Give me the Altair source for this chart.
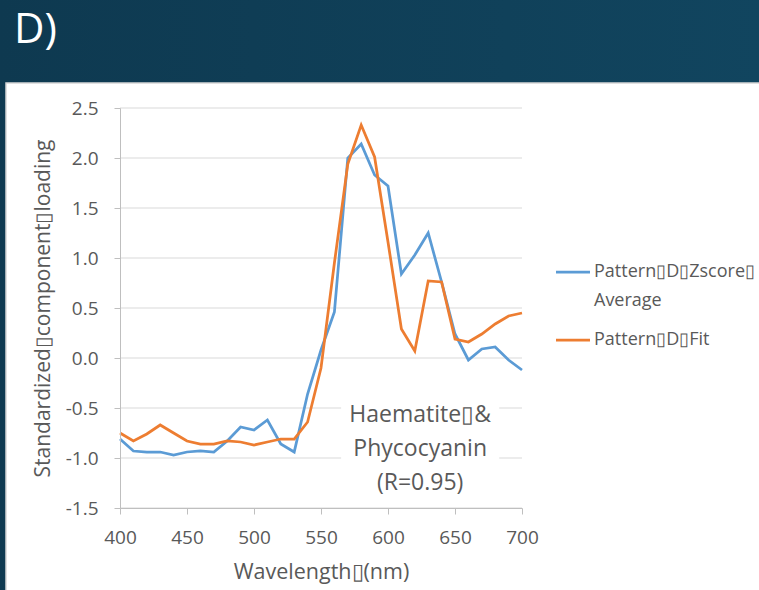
import altair as alt
import pandas as pd

# Spectral loadings, 400-700 nm in 10 nm steps
wavelengths = list(range(400, 701, 10))
zscore_average = [-0.81, -0.93, -0.94, -0.94, -0.97, -0.94, -0.93, -0.94, -0.83, -0.69,
                  -0.72, -0.62, -0.86, -0.94, -0.36, 0.08, 0.46, 2.00, 2.14, 1.83,
                  1.72, 0.84, 1.03, 1.25, 0.76, 0.24, -0.02, 0.09, 0.11, -0.02, -0.12]
pattern_fit = [-0.75, -0.83, -0.76, -0.67, -0.75, -0.83, -0.86, -0.86, -0.83, -0.84,
               -0.87, -0.84, -0.81, -0.81, -0.64, -0.10, 0.95, 1.94, 2.33, 2.01,
               1.16, 0.29, 0.07, 0.77, 0.76, 0.19, 0.16, 0.24, 0.34, 0.42, 0.45]

series_names = ["Pattern▯D▯Zscore▯ Average", "Pattern▯D▯Fit"]
legend_labels = ["Pattern▯D▯Zscore▯\nAverage", "Pattern▯D▯Fit"]
series_colors = ["#5b9bd5", "#ed7d31"]

x_ticks = [400, 450, 500, 550, 600, 650, 700]
y_ticks = [-1.5, -1.0, -0.5, 0.0, 0.5, 1.0, 1.5, 2.0, 2.5]

panel_label = "D)"
annotation_text = "Haematite▯&\nPhycocyanin\n(R=0.95)"
annotation_pos = [624, -0.565]
annotation_box_x = [565, 683]
annotation_box_y = [-0.42, -1.42]

FONT = "Open Sans"
TEXT_GRAY = "#595959"
W, H = 402, 400

df = pd.DataFrame({
    "wavelength": wavelengths * 2,
    "value": zscore_average + pattern_fit,
    "series": [series_names[0]] * len(wavelengths) + [series_names[1]] * len(wavelengths),
})

x_scale = alt.Scale(domain=[400, 700], nice=False, zero=False)
y_scale = alt.Scale(domain=[-1.5, 2.5], nice=False, zero=False)

x_axis = alt.Axis(values=x_ticks, grid=False, zindex=1, title="Wavelength▯(nm)",
                  tickSize=6, tickColor="#bfbfbf", domainColor="#bfbfbf", labelFlush=False,
                  labelFont=FONT, labelFontSize=19, labelColor=TEXT_GRAY, labelPadding=14,
                  titleFont=FONT, titleFontSize=21.5, titleColor=TEXT_GRAY,
                  titleFontWeight="normal", titlePadding=14)
y_axis = alt.Axis(values=y_ticks, grid=False, zindex=1,
                  labelExpr="replace(format(datum.value, '.1f'), '\u2212', '-')",
                  title="Standardized▯component▯loading",
                  tickSize=6, tickColor="#bfbfbf", domainColor="#bfbfbf",
                  labelFont=FONT, labelFontSize=19, labelColor=TEXT_GRAY, labelPadding=16,
                  titleFont=FONT, titleFontSize=21, titleColor=TEXT_GRAY,
                  titleFontWeight="normal", titlePadding=12)

one = pd.DataFrame({"k": [0]})

# Slide background with a soft horizontal gradient
background = alt.Chart(one).mark_rect(
    color=alt.Gradient(
        gradient="linear", x1=0, x2=1, y1=0, y2=0,
        stops=[alt.GradientStop(color="#0e3950", offset=0),
               alt.GradientStop(color="#11455f", offset=1)],
    )
).encode(x=alt.value(-120), x2=alt.value(639), y=alt.value(-108), y2=alt.value(482))

# White chart panel
panel = alt.Chart(one).mark_rect(fill="white", stroke="#d6d6d6", strokeWidth=1.5).encode(
    x=alt.value(-114), x2=alt.value(640), y=alt.value(-25), y2=alt.value(484)
)

label = alt.Chart(one).mark_text(
    text=panel_label, font=FONT, fontSize=42, color="white", align="left", baseline="alphabetic"
).encode(x=alt.value(-106), y=alt.value(-65))

grid = alt.Chart(pd.DataFrame({"v": y_ticks})).mark_rule(color="#d9d9d9", strokeWidth=1).encode(
    y=alt.Y("v:Q", scale=y_scale, axis=y_axis), x=alt.value(0), x2=alt.value(W)
)

ann_box = alt.Chart(pd.DataFrame({
    "x1": [annotation_box_x[0]], "x2": [annotation_box_x[1]],
    "y1": [annotation_box_y[0]], "y2": [annotation_box_y[1]],
})).mark_rect(fill="white").encode(
    x=alt.X("x1:Q", scale=x_scale, axis=x_axis), x2="x2:Q",
    y=alt.Y("y1:Q", scale=y_scale, axis=y_axis), y2="y2:Q",
)

lines = alt.Chart(df).mark_line(strokeWidth=2.75).encode(
    x=alt.X("wavelength:Q", scale=x_scale, axis=x_axis),
    y=alt.Y("value:Q", scale=y_scale, axis=y_axis),
    color=alt.Color("series:N", scale=alt.Scale(domain=series_names, range=series_colors), legend=None),
    detail="series:N",
)

ann_text = alt.Chart(pd.DataFrame({"x": [annotation_pos[0]], "y": [annotation_pos[1]]})).mark_text(
    text=annotation_text, lineBreak="\n", lineHeight=34, font=FONT, fontSize=23,
    color=TEXT_GRAY, align="center", baseline="middle"
).encode(x=alt.X("x:Q", scale=x_scale, axis=x_axis), y=alt.Y("y:Q", scale=y_scale, axis=y_axis))

# Legend drawn beside the plot
legend_y = [164, 232]
legend_layers = []
for name, text, color, ly in zip(series_names, legend_labels, series_colors, legend_y):
    legend_layers.append(
        alt.Chart(one).mark_rule(color=color, strokeWidth=2.75).encode(
            x=alt.value(436), x2=alt.value(470), y=alt.value(ly))
    )
    legend_layers.append(
        alt.Chart(one).mark_text(
            text=text, lineBreak="\n", lineHeight=29, font=FONT, fontSize=18,
            color=TEXT_GRAY, align="left", baseline="middle"
        ).encode(x=alt.value(474), y=alt.value(ly))
    )

chart = alt.layer(background, panel, label, grid, ann_box, lines, ann_text, *legend_layers).properties(
    width=W, height=H,
    autosize=alt.AutoSizeParams(type="none"),
    padding={"left": 120, "top": 108, "right": 237, "bottom": 82},
    background="#103f57",
).configure_view(stroke=None)

chart.save("out.html", embed_options={"renderer": "svg", "actions": False})
